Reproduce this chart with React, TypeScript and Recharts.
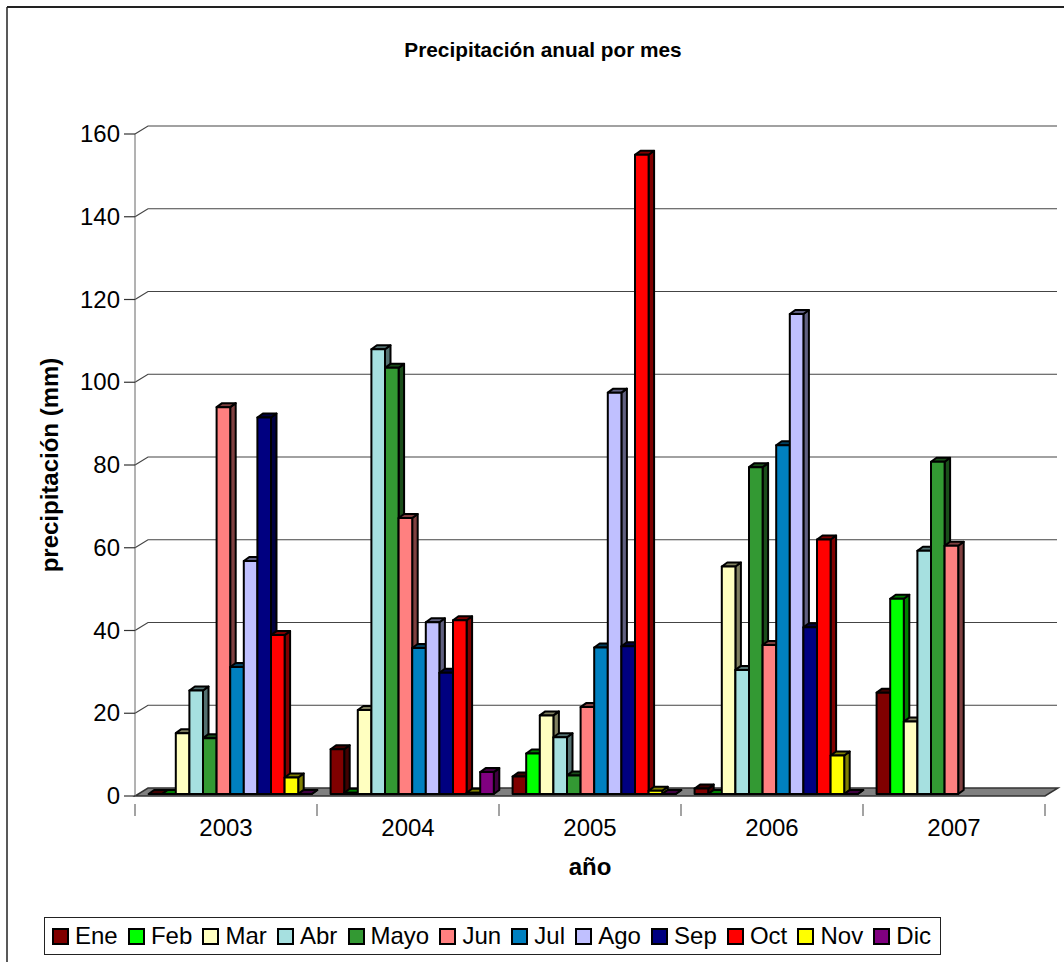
import React from 'react';
import { BarChart, Bar, XAxis, YAxis, Legend, Label, CartesianGrid } from 'recharts';

const years = ['2003', '2004', '2005', '2006', '2007'];
const ene = [0, 10.8, 4.2, 1.3, 24.5];
const feb = [0, 0.3, 9.8, 0, 47.2];
const mar = [14.7, 20.3, 19, 55, 17.5];
const abr = [25, 107.5, 13.7, 30, 58.8];
const mayo = [13.5, 103, 4.5, 79, 80.3];
const jun = [93.5, 66.7, 21, 36, 60];
const jul = [30.7, 35.3, 35.4, 84.3, null];
const ago = [56.3, 41.5, 97, 116, null];
const sep = [91, 29.3, 35.7, 40.3, null];
const oct = [38.4, 42, 154.5, 61.5, null];
const nov = [4, 0.3, 0.8, 9.3, null];
const dic = [0, 5.3, 0, 0, null];
const yTicks = [0, 20, 40, 60, 80, 100, 120, 140, 160];

const series = [
  { key: 'Ene', values: ene, color: '#800000' },
  { key: 'Feb', values: feb, color: '#00FF00' },
  { key: 'Mar', values: mar, color: '#FFFFC0' },
  { key: 'Abr', values: abr, color: '#A6E0E0' },
  { key: 'Mayo', values: mayo, color: '#339933' },
  { key: 'Jun', values: jun, color: '#FF8080' },
  { key: 'Jul', values: jul, color: '#0080C0' },
  { key: 'Ago', values: ago, color: '#C0C0FF' },
  { key: 'Sep', values: sep, color: '#000080' },
  { key: 'Oct', values: oct, color: '#FF0000' },
  { key: 'Nov', values: nov, color: '#FFFF00' },
  { key: 'Dic', values: dic, color: '#800080' },
];

const table = years.map((year, i) => {
  const row: Record<string, unknown> = { year };
  series.forEach((s) => { row[s.key] = s.values[i]; });
  return row;
});

const FONT = '"Liberation Sans", Arial, sans-serif';
const WIDTH = 1064;
const HEIGHT = 962;
const LEFT = 135;
const RIGHT = 19;
const BAND = (WIDTH - LEFT - RIGHT) / years.length;
const WALL_DX = 13;
const WALL_DY = -8;
const GAP_PCT = 0.052;
const BAR_W = 13.6;
const BAR_START = 13.6;

const darken = (hex: string) => {
  const n = parseInt(hex.slice(1), 16);
  const f = (v: number) => Math.round(v * 0.5).toString(16).padStart(2, '0');
  return `#${f((n >> 16) & 255)}${f((n >> 8) & 255)}${f(n & 255)}`;
};

function Bar3D(props: any) {
  const { x, y, width, height, fill, value, index } = props;
  if (value === null || value === undefined) return null;
  const dx = 5.5;
  const dy = -4;
  const catStart = LEFT + index * BAND;
  const libStart = catStart + BAND * GAP_PCT;
  const k = BAR_W / width;
  const sx = catStart + BAR_START + (x - libStart) * k;
  const w = BAR_W;
  const sy = y - 2;
  const dark = darken(fill);
  const line = { stroke: '#000', strokeWidth: 2, strokeLinejoin: 'round' as const };
  return (
    <g>
      <polygon points={`${sx + w},${sy} ${sx + w + dx},${sy + dy} ${sx + w + dx},${sy + height + dy} ${sx + w},${sy + height}`} fill={dark} {...line} />
      <polygon points={`${sx},${sy} ${sx + dx},${sy + dy} ${sx + w + dx},${sy + dy} ${sx + w},${sy}`} fill={dark} {...line} />
      {height > 0 && <rect x={sx} y={sy} width={w} height={height} fill={fill} {...line} />}
    </g>
  );
}

// A gridline in 3D: the slanted stub on the left wall, the line on the back wall,
// and for the zero line the grey floor.
function WallLine(props: any) {
  const { x1, y1, x2, y, height, index } = props;
  const isFloor = y1 >= y + height - 0.5;
  if (isFloor) {
    return (
      <polygon
        key={`floor-${index}`}
        points={`${x1},${y1} ${x2},${y1} ${x2 + WALL_DX},${y1 + WALL_DY} ${x1 + WALL_DX},${y1 + WALL_DY}`}
        fill="#808080"
        stroke="#333"
        strokeWidth={1.5}
      />
    );
  }
  return (
    <path
      key={`wall-${index}`}
      d={`M${x1},${y1}L${x1 + WALL_DX},${y1 + WALL_DY}L${x2 + WALL_DX - 1},${y1 + WALL_DY}`}
      fill="none"
      stroke="#444"
      strokeWidth={1.2}
    />
  );
}

function YTick(props: any) {
  const { y, payload } = props;
  const ax = LEFT;
  return (
    <g>
      <line x1={ax - 11} y1={y} x2={ax} y2={y} stroke="#333" strokeWidth={1.2} />
      <text x={ax - 15} y={y + 8} textAnchor="end" fontSize={24} fontFamily={FONT} fill="#000">
        {payload.value}
      </text>
    </g>
  );
}

function XTick(props: any) {
  const { x, y, payload, index } = props;
  return (
    <g>
      <line x1={x - BAND / 2} y1={y} x2={x - BAND / 2} y2={y + 12} stroke="#666" strokeWidth={1.2} />
      {index === years.length - 1 && (
        <line x1={x + BAND / 2} y1={y} x2={x + BAND / 2} y2={y + 12} stroke="#666" strokeWidth={1.2} />
      )}
      <text x={x} y={y + 32} textAnchor="middle" fontSize={24} fontFamily={FONT} fill="#000">
        {payload.value}
      </text>
    </g>
  );
}

function LegendBox(props: any) {
  const { payload } = props;
  return (
    <div
      style={{
        boxSizing: 'border-box',
        width: 897,
        height: 38,
        border: '1px solid #222',
        background: '#fff',
        display: 'flex',
        alignItems: 'center',
        paddingLeft: 7,
        fontFamily: FONT,
        fontSize: 24,
        color: '#000',
      }}
    >
      {(payload || []).map((p: any) => (
        <div key={p.value} style={{ display: 'flex', alignItems: 'center', marginRight: 10.2 }}>
          <span style={{ boxSizing: 'border-box', width: 17, height: 17, border: '2px solid #000', background: p.color, marginRight: 6 }} />
          <span>{p.value}</span>
        </div>
      ))}
    </div>
  );
}

export default function App() {
  return (
    <div style={{ position: 'absolute', left: 0, top: 0, width: WIDTH, height: HEIGHT, background: '#fff', overflow: 'hidden' }}>
      <BarChart
        width={WIDTH}
        height={HEIGHT}
        data={table}
        margin={{ top: 134, right: RIGHT, bottom: 0, left: 0 }}
        barCategoryGap={`${GAP_PCT * 100}%`}
        barGap={0}
      >
        <line x1={7} y1={7} x2={WIDTH} y2={7} stroke="#222" strokeWidth={2} />
        <line x1={7} y1={7} x2={7} y2={HEIGHT} stroke="#222" strokeWidth={1.5} />
        <text x={543} y={57} textAnchor="middle" fontSize={20.8} fontWeight="bold" fontFamily={FONT} fill="#000">
          Precipitación anual por mes
        </text>
        <CartesianGrid vertical={false} syncWithTicks horizontal={(p: any) => <WallLine {...p} />} />
        <YAxis
          type="number"
          domain={[0, 160]}
          ticks={yTicks}
          width={LEFT}
          interval={0}
          stroke="#666"
          tickLine={false}
          tick={<YTick />}
        >
          <Label value="precipitación (mm)" angle={-90} position="insideLeft" offset={49} style={{ fontSize: 24, fontWeight: 'bold', fontFamily: FONT, fill: '#000', textAnchor: 'middle' }} />
        </YAxis>
        <XAxis dataKey="year" height={166} axisLine={false} tickLine={false} tick={<XTick />} interval={0}>
          <Label value="año" position="insideTop" offset={62} style={{ fontSize: 24, fontWeight: 'bold', fontFamily: FONT, fill: '#000' }} />
        </XAxis>
        {series.map((s) => (
          <Bar key={s.key} dataKey={s.key} name={s.key} fill={s.color} isAnimationActive={false} shape={<Bar3D />} />
        ))}
        <Legend
          layout="horizontal"
          verticalAlign="middle"
          itemSorter={null}
          content={<LegendBox />}
          wrapperStyle={{ position: 'absolute', left: 44, top: 917, width: 897, height: 38 }}
        />
      </BarChart>
    </div>
  );
}
